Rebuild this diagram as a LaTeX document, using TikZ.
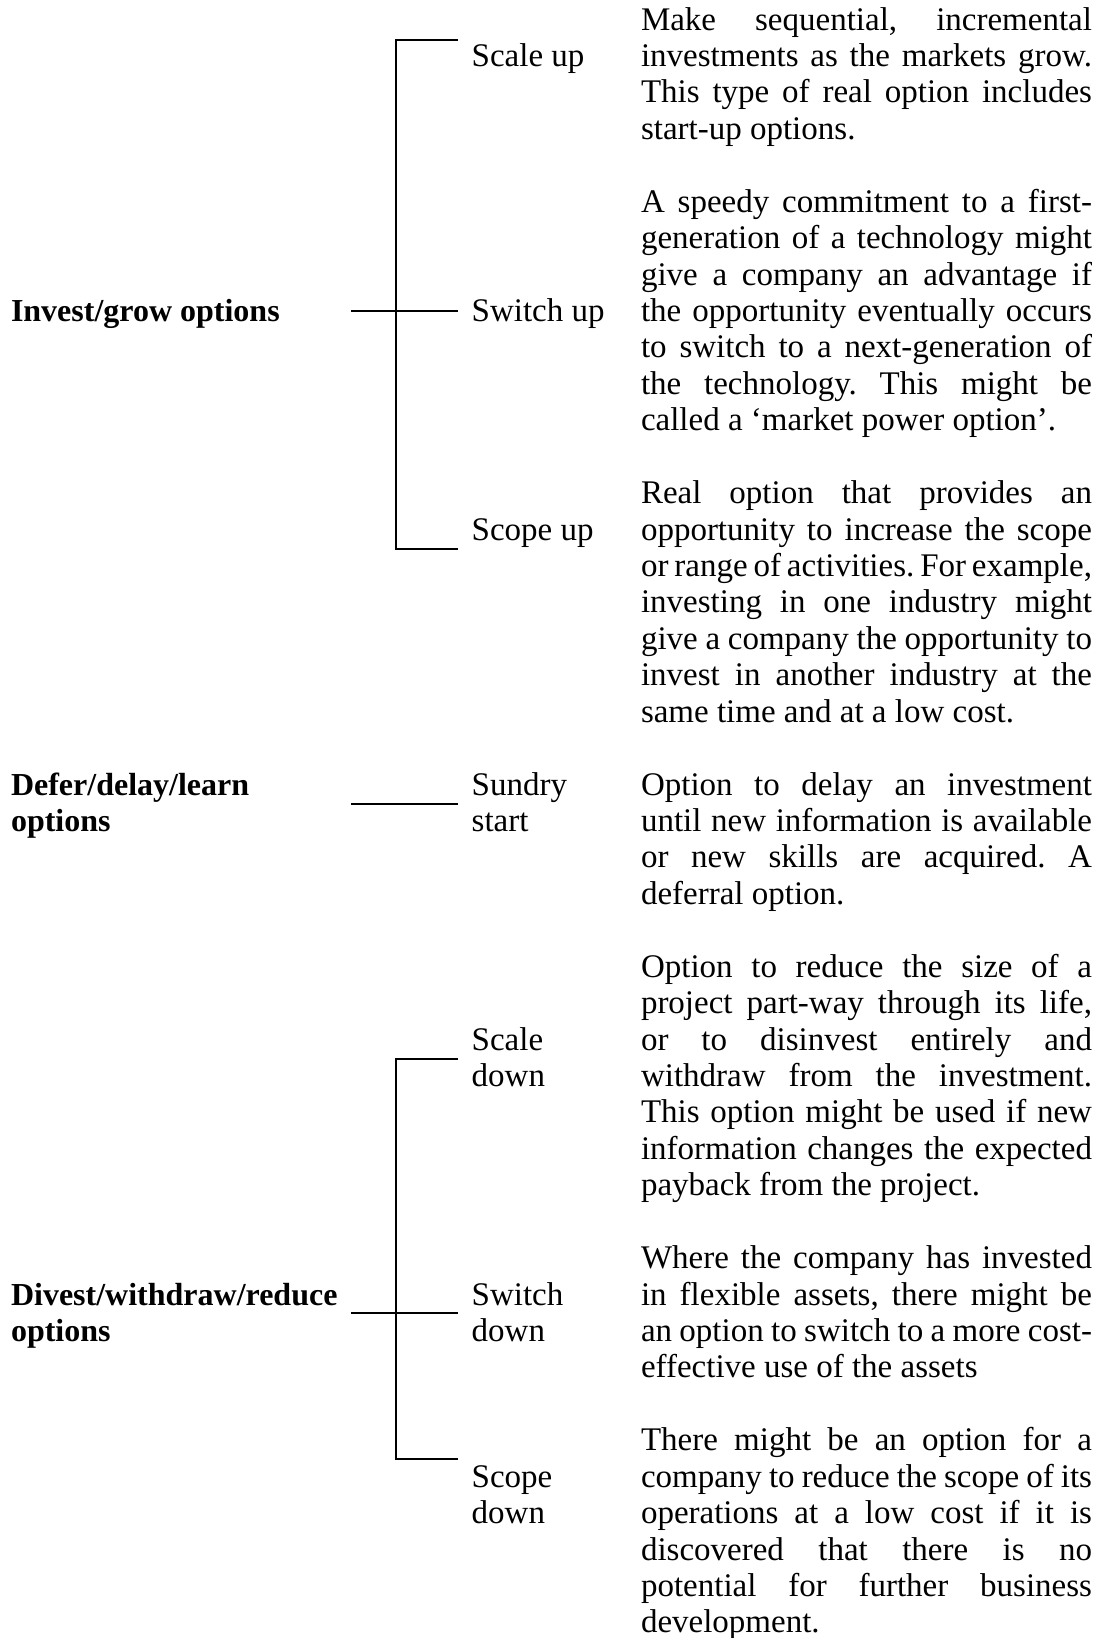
\documentclass[tikz,border=0pt]{standalone}
\usepackage{fontspec}
\setmainfont{Liberation Serif}
\newdimen\dw \dw=451pt
\newcommand\jline[1]{\hbox to\dw{#1}}
\newcommand\lline[1]{\hbox{#1}}
\newcommand\twol[2]{\vtop{\hbox{#1}\hbox{#2}}}
\begin{document}
\frenchspacing
\begin{tikzpicture}[x=1pt,y=-1pt,
  txt/.style={inner sep=0pt, outer sep=0pt, anchor=base west,
    font=\fontsize{33}{36.43}\selectfont\frenchspacing},
  head/.style={txt, font=\fontsize{32}{36.43}\selectfont\bfseries\frenchspacing},
  conn/.style={line width=2pt, line join=miter}]
\useasboundingbox (0,0) rectangle (1105,1638);

% ---------- left headings ----------
\node[head] (grow)  at (11,321.44) {Invest/grow options};
\node[head] (defer) at (11,795.03)  {\twol{Defer/delay/learn}{options}};
\node[head] (divest) at (11,1305.05) {\twol{Divest/withdraw/reduce}{options}};

% ---------- middle labels ----------
\node[txt] (sup)  at (471.7,66.43)   {Scale up};
\node[txt] (swup) at (471.7,321.44)  {Switch up};
\node[txt] (scup) at (471.7,540.02)  {Scope up};
\node[txt] (sund) at (471.7,795.03)  {\twol{Sundry}{start}};
\node[txt] (sdn)  at (471.7,1050.04) {\twol{Scale}{down}};
\node[txt] (swdn) at (471.7,1305.05) {\twol{Switch}{down}};
\node[txt] (scdn) at (471.7,1487.2)  {\twol{Scope}{down}};

% ---------- descriptions ----------
\node[txt] (d1) at (641,30) {\vtop{%
\jline{Make sequential, incremental}
\jline{investments as the markets grow.}
\jline{This type of real option includes}
\lline{start-up options.}}};

\node[txt] (d2) at (641,212.15) {\vtop{%
\jline{A speedy commitment to a first-}
\jline{generation of a technology might}
\jline{give a company an advantage if}
\jline{the opportunity eventually occurs}
\jline{to switch to a next-generation of}
\jline{the technology. This might be}
\lline{called a `market power option'.}}};

\node[txt] (d3) at (641,503.59) {\vtop{%
\jline{Real option that provides an}
\jline{opportunity to increase the scope}
\jline{or range of activities. For example,}
\jline{investing in one industry might}
\jline{give a company the opportunity to}
\jline{invest in another industry at the}
\lline{same time and at a low cost.}}};

\node[txt] (d4) at (641,795.03) {\vtop{%
\jline{Option to delay an investment}
\jline{until new information is available}
\jline{or new skills are acquired. A}
\lline{deferral option.}}};

\node[txt] (d5) at (641,977.18) {\vtop{%
\jline{Option to reduce the size of a}
\jline{project part-way through its life,}
\jline{or to disinvest entirely and}
\jline{withdraw from the investment.}
\jline{This option might be used if new}
\jline{information changes the expected}
\lline{payback from the project.}}};

\node[txt] (d6) at (641,1268.62) {\vtop{%
\jline{Where the company has invested}
\jline{in flexible assets, there might be}
\jline{an option to switch to a more cost-}
\lline{effective use of the assets}}};

\node[txt] (d7) at (641,1450.77) {\vtop{%
\jline{There might be an option for a}
\jline{company to reduce the scope of its}
\jline{operations at a low cost if it is}
\jline{discovered that there is no}
\jline{potential for further business}
\lline{development.}}};

% ---------- connector coordinates ----------
\coordinate (gIn)  at (351,310.7);
\coordinate (gTop) at (395.7,40);
\coordinate (gBot) at (395.7,549);
\coordinate (gE1)  at (457.7,40);
\coordinate (gE2)  at (457.7,310.7);
\coordinate (gE3)  at (457.7,549);

\coordinate (fIn)  at (351,803.7);
\coordinate (fE1)  at (457.7,803.7);

\coordinate (vIn)  at (351,1312.7);
\coordinate (vTop) at (395.7,1059);
\coordinate (vBot) at (395.7,1459.3);
\coordinate (vE1)  at (457.7,1059);
\coordinate (vE2)  at (457.7,1312.7);
\coordinate (vE3)  at (457.7,1459.3);

% ---------- connectors ----------
\draw[conn] (gE1) -- (gTop) -- (gBot) -- (gE3);
\draw[conn] (gIn) -- (gE2);
\draw[conn] (fIn) -- (fE1);
\draw[conn] (vE1) -- (vTop) -- (vBot) -- (vE3);
\draw[conn] (vIn) -- (vE2);
\end{tikzpicture}
\end{document}
